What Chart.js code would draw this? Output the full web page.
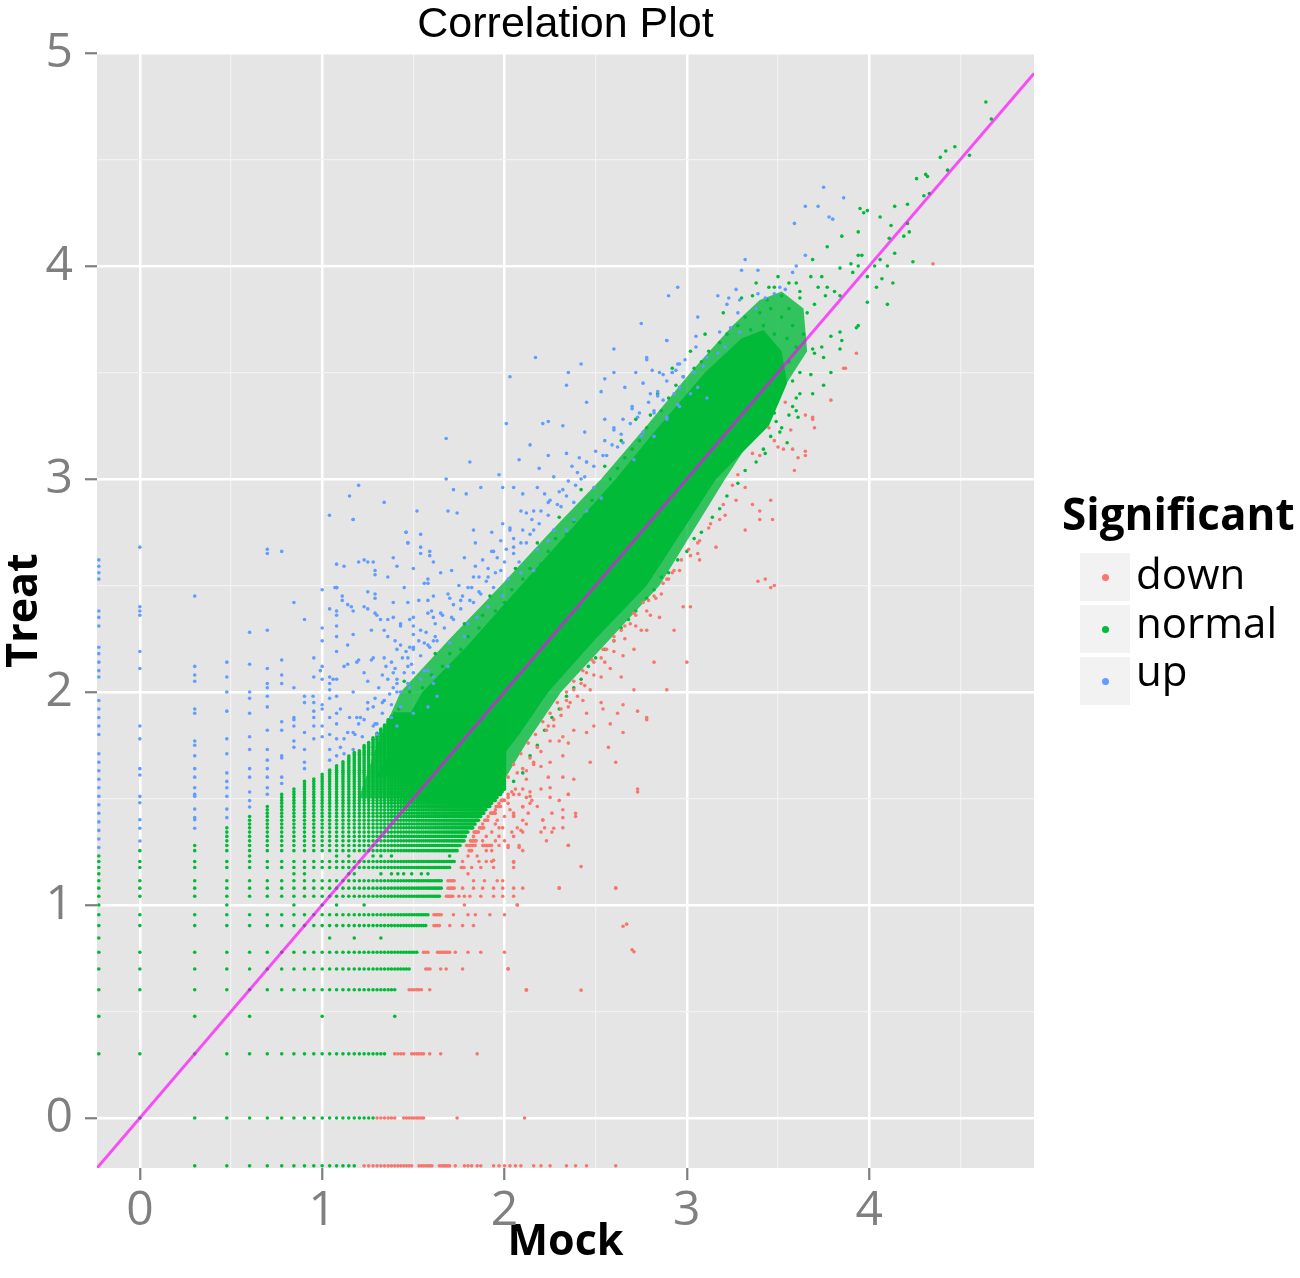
<!DOCTYPE html>
<html>
<head>
<meta charset="utf-8">
<script src="https://cdn.jsdelivr.net/npm/chart.js@4.4.1/dist/chart.umd.min.js"></script>
<style>
html,body{margin:0;padding:0;background:#fff;}
#wrap{position:relative;width:1300px;height:1278px;overflow:hidden;}
#c{position:absolute;left:0;top:0;}
.lg{position:absolute;font-family:"Open Sans",sans-serif;color:#000;white-space:nowrap;}
.lgt{font-weight:700;font-size:44px;line-height:44px;}
.lgl{font-size:42px;line-height:42px;}
.key{position:absolute;width:50px;height:48px;background:#F2F2F2;}
.key span{position:absolute;left:22px;top:21px;width:7px;height:7px;border-radius:50%;}
</style>
</head>
<body>
<div id="wrap">
<canvas id="c" width="1300" height="1278"></canvas>
<div class="lg lgt" style="left:1062px;top:491px;"></div>
<div class="key" style="left:1080px;top:553px;"><span style="background:#F8766D"></span></div>
<div class="key" style="left:1080px;top:605px;"><span style="background:#00BA38"></span></div>
<div class="key" style="left:1080px;top:657px;"><span style="background:#619CFF"></span></div>
<div class="lg lgl" id="l0" style="left:1136px;top:552px;"></div>
<div class="lg lgl" id="l1" style="left:1136px;top:601px;"></div>
<div class="lg lgl" id="l2" style="left:1136px;top:649px;"></div>
</div>
<script>
// ---------- labels & ticks ----------
const CATEGORIES = ['down', 'normal', 'up'];
const COLORS = ['#F8766D', '#00BA38', '#619CFF'];
const TITLE = 'Correlation Plot';
const X_TITLE = 'Mock';
const Y_TITLE = 'Treat';
const LEGEND_TITLE = 'Significant';
const X_TICKS = [0, 1, 2, 3, 4];
const Y_TICKS = [0, 1, 2, 3, 4, 5];
const X_MINOR = [0.5, 1.5, 2.5, 3.5, 4.5];
const Y_MINOR = [0.5, 1.5, 2.5, 3.5, 4.5];
const X_RANGE = [-0.235, 4.904];
const Y_RANGE = [-0.235, 5.0];

// ---------- discrete (low count) lattice levels ----------
const X_LEVELS = [-0.225,0,0.301,0.477,0.602,0.699,0.778,0.845,0.903,0.954,1.0,1.041,1.079,1.114,1.146,1.176,1.204,1.23,1.255,1.279,1.301,1.322,1.342,1.362,1.38,1.398,1.415,1.431,1.447,1.462,1.477,1.491,1.505,1.519,1.531,1.544,1.556,1.568,1.58,1.591,1.602,1.613,1.623,1.633,1.643,1.653,1.663,1.672,1.681,1.69,1.699,1.708,1.716,1.724,1.732,1.74,1.748,1.756,1.763,1.771,1.778,1.785,1.792,1.799,1.806,1.813,1.82,1.826,1.833,1.839,1.845,1.851,1.857,1.863,1.869,1.875,1.881,1.886,1.892,1.898,1.903,1.908,1.914,1.919,1.924,1.929,1.934,1.94,1.944,1.949,1.954,1.959,1.964,1.968,1.973,1.978,1.982,1.987,1.991,1.996,2.0];

// highest "normal" Treat value seen in each low Mock column
const COL_TOP = [[-0.225,1.21],[0,1.26],[0.301,1.30],[0.477,1.37],[0.602,1.43],[0.699,1.47],[0.778,1.53],[0.845,1.55],[0.903,1.58],[0.954,1.60],[1.0,1.62],[1.041,1.64],[1.079,1.66],[1.114,1.68],[1.146,1.70],[1.176,1.72],[1.204,1.73],[1.23,1.75],[1.255,1.77],[1.279,1.79],[1.301,1.81],[1.322,1.83],[1.342,1.85],[1.362,1.87],[1.38,1.89],[1.398,1.91],[1.415,1.93],[1.431,1.95]];

// rows: [Treat level, first normal Mock, last normal Mock, down runs, single down points]
const LATTICE_ROWS = [
 [-0.225,0.3,1.19,[[1.22,1.5],[1.52,1.61],[1.64,1.7]],[1.73,1.78,1.8,1.82,1.85,1.87,1.94,1.97,2.0,2.03,2.06,2.09,2.16,2.2,2.25,2.34,2.39,2.45,2.61]],
 [0,0,1.28,[[1.3,1.4],[1.44,1.56]],[1.74,2.11]],
 [0.301,-0.225,1.35,[[1.39,1.46],[1.49,1.56]],[1.59,1.65,1.85]],
 [0.602,-0.225,1.40,[[1.47,1.55]],[1.59,2.12]],
 [0.699,-0.225,1.48,[[1.52,1.52],[1.56,1.60]],[1.65,1.68,1.77,2.02]],
 [0.778,-0.225,1.52,[[1.55,1.58],[1.63,1.70]],[1.73,1.80,1.87,2.0]],
 [0.903,-0.225,1.57,[[1.61,1.65]],[1.70,1.77,1.83]],
 [0.954,-0.225,1.58,[[1.61,1.66]],[1.72,1.80,1.84,1.92,2.0]],
 [1.041,-0.225,1.65,[[1.68,1.72]],[1.75,1.78,1.81,1.87,1.94,1.99,2.05]],
 [1.079,-0.225,1.66,[[1.69,1.73]],[1.77,1.83,1.88,1.94,1.99,2.05,2.1,2.3,2.61]],
 [1.114,-0.225,1.66,[[1.69,1.73]],[1.83,1.89,1.96,1.99]],
 [1.176,-0.225,1.70,[[1.76,1.78]],[1.82,1.87,1.94,2.05]],
 [1.204,-0.225,1.73,[],[1.77,1.86,1.90,1.93,2.05]],
 [1.255,-0.225,1.74,[[1.80,1.82]],[1.90,1.93,2.1]],
 [1.279,-0.225,1.76,[[1.79,1.84],[1.88,1.93]],[1.97,2.02,2.08,2.35]],
 [1.301,-0.225,1.78,[[1.81,1.85]],[1.88,1.95,2.0,2.23]],
 [1.322,-0.225,1.79,[],[1.83,1.9,1.97,2.05]],
 [1.342,-0.225,1.80,[[1.83,1.86]],[1.93,2.04,2.10,2.2,2.26]],
 [1.362,-0.225,1.83,[[1.86,1.89]],[1.97,1.99,2.07,2.22,2.32]],
 [1.380,-0.225,1.84,[],[1.88,1.95,2.12]],
 [1.398,-0.225,1.86,[[1.89,1.91]],[1.96,2.10,2.21]],
 [1.415,-0.225,1.87,[],[1.91,2.0,2.05,2.39]],
 [1.431,-0.225,1.89,[[1.92,1.95]],[2.05,2.13,2.26]],
 [1.447,-0.225,1.90,[],[1.95,2.03,2.32]],
 [1.462,-0.225,1.92,[[1.95,1.98]],[2.1,2.18]],
 [1.477,-0.225,1.93,[],[1.97,2.02,2.14]],
 [1.491,-0.225,1.95,[[1.98,2.0]],[2.15,2.3]],
 [1.505,-0.225,1.96,[],[2.02,2.12,2.25]],
 [1.519,-0.225,1.98,[],[2.02,2.05,2.08,2.35]],
 [1.531,-0.225,1.99,[],[2.04,2.14]],
 [1.544,-0.225,2.0,[],[2.06,2.1,2.2,2.73]]
];
// rows whose normal run reaches the dense core
const UPPER_ROWS = [1.556,1.568,1.58,1.591,1.602,1.613,1.623,1.633,1.643,1.653,1.663,1.672,1.681,1.69,1.699,1.708,1.716,1.724,1.732,1.74,1.748,1.756,1.763,1.771,1.778,1.785,1.792,1.799,1.806,1.813,1.82,1.826,1.833,1.839,1.845,1.851,1.857,1.863,1.869,1.875,1.881,1.886,1.892,1.898];
// sparse rows: [Treat level, normal Mock values]
const SPARSE_NORMAL = [
 [0.477,[-0.225,0.301,0.602,1.0,1.398]],
 [0.845,[-0.225,1.041,1.176,1.322]],
 [1.0,[-0.225,0.477,0.845,1.0,1.079,1.23]],
 [1.146,[-0.225,0.845,0.903,1.146,1.176,1.322,1.38,1.415,1.447,1.491,1.544,1.58]],
 [1.23,[-0.225,0.602,1.079,1.146,1.279,1.322,1.38,1.699]]
];
const SPARSE_DOWN = [[1.0,[1.78,2.07]],[1.146,[1.80]],[1.23,[1.80,1.85]]];

// up points stacked on low Mock columns: [Mock level, Treat values]
const UP_COLUMNS = [
 [-0.225,[2.62,2.59,2.56,2.53,2.38,2.35,2.31,2.21,2.18,2.14,2.10,2.07,1.96,1.92,1.88,1.84,1.80,1.71,1.67,1.63,1.59,1.55,1.51,1.47,1.43,1.39,1.35,1.31,1.27]],
 [0,[2.68,2.40,2.38,2.36,2.19,2.11,1.84,1.78,1.64,1.61,1.51,1.48,1.40,1.36,1.30]],
 [0.301,[2.45,2.12,2.08,2.05,1.92,1.90,1.77,1.75,1.70,1.64,1.60,1.55,1.52,1.51,1.45,1.41,1.40,1.36]],
 [0.477,[2.14,2.07,2.0,1.91,1.78,1.71,1.62,1.58,1.55,1.51,1.45,1.41]],
 [0.602,[2.28,2.13,2.0,1.97,1.90,1.79,1.73,1.64,1.60,1.53,1.49,1.46]],
 [0.699,[2.67,2.65,2.29,2.11,2.04,2.02,1.98,1.93,1.82,1.73,1.68,1.64,1.60,1.55,1.52]],
 [0.778,[2.66,2.15,2.08,2.04,1.86,1.82,1.70,1.69,1.60,1.57]],
 [0.845,[2.42,2.02,1.88,1.87,1.84,1.77,1.74]],
 [0.903,[2.34,1.98,1.95,1.81,1.73,1.67,1.64]],
 [0.954,[2.16,2.07,1.95,1.91,1.88,1.84,1.78]],
 [1.0,[2.48,2.30,2.24,2.12,2.06,1.94,1.92,1.84,1.79]],
 [1.041,[2.39,2.07,2.04,2.01,1.97,1.88,1.80,1.73,1.68]],
 [1.079,[2.60,2.49,2.38,2.36,2.31,2.26,2.19,2.06,1.98,1.90,1.85,1.78,1.70]]
];

// ---------- scattered points [Mock, Treat] ----------
const UP_POINTS = [
 [2.17,3.57],[2.03,3.48],[2.42,3.54],[2.35,3.50],[2.60,3.61],[2.89,3.65],[2.78,3.57],[2.95,3.54],[2.81,3.51],[2.87,3.49],[2.92,3.50],[2.72,3.50],[2.60,3.50],[2.55,3.47],[2.53,3.41],[2.66,3.43],[2.76,3.45],[2.96,3.43],[2.84,3.39],[2.95,3.35],[2.70,3.34],[2.82,3.32],[2.89,3.29],[2.73,3.29],[2.45,3.36],[2.34,3.44],
 [2.01,3.26],[2.24,3.27],[2.21,3.26],[2.32,3.25],[2.44,3.22],[2.55,3.28],[2.60,3.24],[2.65,3.17],[2.62,3.15],[2.75,3.20],[2.82,3.20],[2.71,3.09],[2.56,3.11],[2.45,3.08],[2.34,3.12],[2.41,3.10],[2.24,3.11],[2.14,3.16],[2.08,3.09],[2.19,3.05],
 [1.68,3.19],[1.81,3.08],[1.97,3.02],[1.68,3.00],[1.72,2.95],[1.79,2.93],[1.87,2.96],[1.99,2.96],[2.05,2.96],[2.10,2.93],[2.18,2.96],[2.27,3.01],[2.32,2.95],[2.42,3.00],[2.49,2.96],[2.38,2.89],[2.45,2.85],[2.53,2.91],[2.31,2.87],[2.24,2.89],[2.16,2.85],[2.09,2.85],[1.99,2.79],[2.03,2.76],[1.93,2.75],[1.83,2.76],[1.84,2.70],[1.74,2.84],[1.69,2.85],[1.52,2.85],[1.34,2.89],[1.20,2.97],[1.15,2.92],[1.04,2.83],[1.17,2.81],
 [1.46,2.75],[1.47,2.70],[1.54,2.65],[1.59,2.66],[1.61,2.61],[1.65,2.56],[1.71,2.57],[1.78,2.63],[1.88,2.62],[1.94,2.66],[1.98,2.71],[2.05,2.68],[2.12,2.70],[2.18,2.67],[2.24,2.71],[2.27,2.76],[2.34,2.76],[2.38,2.81],[2.16,2.76],[2.08,2.61],[1.98,2.57],[1.91,2.54],[1.83,2.54],[1.80,2.49],[1.87,2.46],[1.94,2.49],[2.02,2.53],[2.09,2.56],[2.16,2.57],
 [1.99,2.45],[1.91,2.40],[1.83,2.42],[1.76,2.43],[1.69,2.46],[1.61,2.45],[1.56,2.51],[1.45,2.49],[1.36,2.54],[1.28,2.61],[1.23,2.62],[1.12,2.59],[1.08,2.49],[1.11,2.45],[1.16,2.40],[1.23,2.40],[1.29,2.37],[1.36,2.34],[1.43,2.32],[1.50,2.35],[1.58,2.37],[1.65,2.37],[1.72,2.34],[1.80,2.32],[1.85,2.35],
 [1.78,2.26],[1.70,2.23],[1.63,2.24],[1.56,2.23],[1.48,2.21],[1.41,2.20],[1.34,2.16],[1.27,2.15],[1.19,2.14],[1.12,2.12],[1.06,2.06],[0.99,2.10],[0.95,1.98],[1.17,2.00],[1.25,1.95],[1.34,1.96],[1.41,2.00],[1.48,2.02],[1.56,2.10],[1.61,2.04],[1.69,2.12],[1.43,1.93],[1.50,1.90],[1.38,1.88],[1.30,1.85],[1.21,1.88],[1.10,1.92],[1.41,1.84],[1.58,1.93],[1.63,1.98],
 [3.75,4.37],[3.86,4.32],[3.65,4.28],[3.72,4.28],[3.59,4.20],[3.78,4.23],[3.80,4.22],[3.32,4.03],[3.30,3.98],[3.39,3.98],[3.65,4.05],[3.60,4.00],[3.58,3.97],[2.95,3.90],[2.90,3.86],[2.75,3.73],[3.06,3.76],[2.89,3.65],[3.17,3.86],[3.23,3.85],[3.27,3.89],[3.29,3.84],[3.22,3.82],[3.39,3.87],[3.43,3.85],[3.48,3.87],[3.51,3.90],[3.54,3.89],[3.28,3.78],[3.38,3.80],[3.18,3.69],[3.24,3.71],[3.29,3.69],[3.05,3.67],[3.05,3.62],[2.78,3.56],[2.96,3.54],[2.92,3.50],[2.85,3.50],[2.98,3.48],[3.04,3.50],[3.11,3.57],[3.09,3.53],[3.17,3.59],[3.21,3.62],[2.80,3.40],[2.87,3.37],[2.93,3.40],[3.02,3.40],[3.06,3.43],[3.11,3.38],[2.96,3.34],[2.82,3.31],[2.89,3.28],[2.76,3.22],
 [1.17,2.81],[1.46,2.75],[1.54,2.74],[1.47,2.70],[1.54,2.68],[1.39,2.63],[1.59,2.64],[1.20,2.61],[1.25,2.61],[1.41,2.59],[1.50,2.58],[1.29,2.57],[1.29,2.55],[1.58,2.53],[1.58,2.51],[1.07,2.49],[1.25,2.47],[1.29,2.46],[1.29,2.44],[1.11,2.43],[1.14,2.41],[1.17,2.38],[1.25,2.39],[1.39,2.42],[1.47,2.42],[1.53,2.43],[1.58,2.43],[1.30,2.36],[1.32,2.34],[1.39,2.35],[1.48,2.34],[1.61,2.35],[1.27,2.29],[1.34,2.29],[1.43,2.31],[1.50,2.31],[1.54,2.29],[1.36,2.26],[1.40,2.24],[1.43,2.22],[1.61,2.24],[1.17,2.27],[1.14,2.22],[1.50,2.21],
 [1.47,2.16],[1.59,2.21],[1.28,2.16],[1.20,2.15],[1.14,2.13],[1.23,2.09],[1.35,2.12],[1.39,2.09],[1.47,2.12],[1.50,2.09],[1.58,2.10],[1.61,2.07],[1.41,2.06],[1.47,2.04],[1.54,2.06],[1.25,2.05],[1.39,2.02],[1.43,2.00],[1.34,1.96],[1.38,1.94],[1.28,1.93],[1.19,1.88],[1.23,1.87],[1.29,1.85],[1.14,1.81],[1.17,1.81],[1.22,1.79],[1.10,1.74],[1.17,1.73],[1.12,1.71],[1.12,1.78],[1.18,1.80],[1.28,1.84],[1.15,1.88],[1.25,1.92],[1.33,1.90],[1.20,1.85],[1.30,1.80]
];
// dense band of up points hugging the normal cloud
const UP_STRIP = [[1.33,1.95],[1.29,1.97],[1.37,1.99],[1.31,2.02],[1.41,2.04],[1.36,2.06],[1.45,2.09],[1.40,2.11],[1.33,2.08],[1.49,2.13],[1.44,2.16],[1.38,2.14],[1.54,2.17],[1.50,2.20],[1.46,2.19],[1.58,2.22],[1.53,2.24],[1.62,2.26],[1.57,2.28],[1.50,2.27],[1.67,2.30],[1.62,2.32],[1.71,2.35],[1.66,2.36],[1.60,2.38],[1.76,2.39],[1.72,2.41],[1.81,2.43],[1.77,2.45],[1.70,2.44],[1.86,2.47],[1.82,2.49],[1.75,2.50],[1.90,2.52],[1.86,2.54],[1.95,2.56],[1.91,2.58],[1.84,2.59],[2.00,2.61],[1.96,2.63],[2.05,2.65],[2.01,2.67],[1.93,2.66],[2.09,2.70],[2.05,2.72],[2.14,2.74],[2.10,2.76],[2.03,2.77],[2.19,2.79],[2.15,2.81],[2.24,2.83],[2.20,2.85],[2.12,2.84],[2.29,2.88],[2.25,2.90],[2.34,2.92],[2.30,2.94],[2.22,2.93],[2.39,2.97],[2.35,2.99],[2.44,3.01],[2.40,3.03],[2.49,3.06],[2.45,3.08],[2.37,3.06],[2.54,3.11],[2.50,3.13],[2.59,3.16],[2.55,3.18],[2.64,3.21],[2.60,3.23],[2.69,3.26],[2.65,3.28],[2.74,3.31],[2.70,3.33],[2.79,3.36],[2.84,3.41],[2.89,3.46],[2.94,3.51],[2.99,3.56]];

const DOWN_POINTS = [
 [3.01,2.67],[3.06,2.65],[3.02,2.40],[2.93,2.57],[2.89,2.53],[2.82,2.45],[2.76,2.42],[2.71,2.37],[2.69,2.32],[2.64,2.29],[2.60,2.24],[2.56,2.20],[2.53,2.16],[2.49,2.14],[2.45,2.09],[2.42,2.04],[2.38,2.01],[2.34,1.96],[2.31,1.92],[2.27,1.87],[2.24,1.84],[2.71,2.20],[2.78,2.29],[2.85,2.35],[2.93,2.29],[2.71,2.01],[2.82,2.14],[2.89,2.01],[2.64,2.07],[2.53,1.95],[2.62,1.90],[2.45,1.90],[2.78,1.87],[3.00,2.14],[2.98,2.40],
 [3.87,3.52],[3.79,3.37],[3.69,3.28],[3.65,3.13],[3.59,3.04],[3.46,2.90],[3.40,2.81],[3.48,2.50],[3.43,2.53],[3.32,2.76],[3.25,2.97],[3.18,2.81],[3.16,2.68],[3.07,2.62],[4.35,4.01],[3.93,3.59],[3.86,3.52],[3.65,3.30],[3.69,3.29],[3.70,3.24],[3.50,3.15],[3.53,3.14],[3.58,3.14],[3.65,3.11],[3.61,3.10],
 [3.27,2.90],[3.32,2.96],[3.36,2.88],[3.40,3.11],[3.48,3.18],[3.57,3.23],[3.07,2.71],[3.13,2.79],[3.21,2.83],[3.40,2.85],[3.47,2.81],[3.39,2.52],[3.46,2.49],[3.02,2.64],[2.96,2.57],[2.90,2.53],[2.83,2.44],[2.80,2.36],[2.75,2.29],[2.65,2.17],[2.58,2.11],[2.53,2.07],[2.47,2.01],[2.67,0.91],[2.70,0.79],
 [2.36,1.95],[2.43,1.96],[2.54,1.92],[2.65,1.94],[2.73,1.91],[2.78,1.88],[2.58,1.85],[2.65,1.81],[2.49,1.84],[2.45,1.81],[2.38,1.82],[2.32,1.79],[2.30,1.77],[2.57,1.74],[2.47,1.67],[2.61,1.67],[2.35,1.76],[2.32,1.70],[2.25,1.67],[2.20,1.65],[2.16,1.67],[2.12,1.63],[2.24,1.60],[2.32,1.60],[2.38,1.59],[2.25,1.55],[2.35,1.52],[2.73,1.53],[2.14,1.51],[2.10,1.46],[2.05,1.42],[2.32,1.41],[2.39,1.43],[2.21,1.40],[2.27,1.36],[2.09,1.35],[2.02,1.27],[2.08,1.27],[2.35,1.28],[2.42,1.18],[2.05,1.20],[1.94,1.21],[2.61,1.08],[2.30,1.08],[2.65,0.90],[2.71,0.78],[2.07,1.00],[2.02,0.70],[2.42,0.60],[2.12,0.60]
];
// dense band of down points hugging the normal cloud
const DOWN_STRIP = [[2.02,1.60],[2.07,1.62],[2.12,1.59],[2.05,1.66],[2.10,1.64],[2.16,1.66],[2.09,1.71],[2.14,1.69],[2.20,1.72],[2.13,1.76],[2.18,1.74],[2.25,1.77],[2.17,1.80],[2.23,1.82],[2.21,1.86],[2.27,1.84],[2.25,1.90],[2.31,1.89],[2.29,1.95],[2.35,1.93],[2.34,2.00],[2.40,1.98],[2.38,2.05],[2.44,2.03],[2.43,2.10],[2.49,2.08],[2.48,2.15],[2.55,2.14],[2.54,2.20],[2.60,2.19],[2.60,2.26],[2.66,2.25],[2.66,2.31],[2.72,2.31],[2.72,2.36],[2.78,2.38],[2.79,2.43],[2.86,2.46],[2.87,2.51],[2.92,2.56],[2.97,2.62],[3.06,2.70],[3.12,2.77],[3.20,2.88],[3.28,3.02],[3.36,3.12],[3.45,3.24],[3.54,3.36]];

const NORMAL_POINTS = [
 [4.64,4.77],[4.67,4.69],[4.39,4.51],[4.42,4.54],[4.47,4.56],[4.55,4.52],[4.43,4.45],[4.26,4.41],[4.31,4.43],[4.32,4.42],[4.30,4.33],[4.33,4.34],[4.21,4.29],[4.14,4.28],[4.06,4.23],[3.95,4.27],[3.97,4.25],[3.99,4.26],[4.12,4.19],[4.21,4.20],[4.22,4.16],[4.19,4.14],[4.11,4.13],[4.14,4.06],[4.24,4.02],[3.94,4.16],[3.85,4.14],[3.77,4.09],[3.96,4.05],[4.06,4.03],[4.10,4.00],[4.03,4.00],[3.94,4.00],[3.84,3.99],[3.99,3.95],[4.07,3.94],[4.13,3.92],[4.04,3.90],[4.10,3.82],[3.99,3.83],[3.94,3.72],[3.84,3.69],[3.85,3.65],[3.79,3.67],[3.74,3.62],[3.75,3.57],[3.69,3.61],[3.70,3.59],[3.75,3.44],[3.68,3.49],[3.62,3.40],[3.60,3.32],[3.48,3.31],[3.49,3.27],[3.42,3.24],[3.84,3.86],[3.81,3.88],[3.77,3.90],[3.74,3.95],[3.91,3.97],[3.90,4.01],[3.69,4.03],[3.94,4.05],
 [3.93,3.71],[3.84,3.61],[3.79,3.50],[3.69,3.40],[3.61,3.29],[3.58,3.34],[3.51,3.22],[3.43,3.12],[3.55,3.17],
 [3.35,3.70],[3.42,3.72],[3.48,3.68],[3.40,3.78],[3.46,3.80],[3.52,3.76],[3.58,3.72],[3.55,3.66],[3.60,3.62],[3.64,3.68],[3.66,3.78],[3.70,3.82],[3.62,3.88],[3.56,3.92],[3.68,3.95],[3.72,3.90],[3.76,3.86],[3.45,3.90],[3.38,3.92],
 [1.30,1.72],[1.38,1.86],[1.42,1.92],[1.48,2.00],[1.55,2.02],[1.60,2.08],[1.66,2.12],[1.70,2.18],[1.76,2.20],[1.80,2.26],[1.86,2.30],[1.88,2.36],[1.95,2.38],[2.00,2.42],[2.04,2.48],[2.10,2.53],[2.14,2.58],[2.20,2.60],[2.24,2.66],[2.28,2.72],[2.34,2.74],[2.38,2.80],[2.44,2.83],[2.48,2.90],[2.55,2.93],[2.58,3.00],[2.62,3.05],[2.66,3.10],[2.70,3.14],[2.74,3.18],[2.78,3.24],[2.80,3.30],[2.86,3.32],[2.90,3.38],[2.94,3.44],[2.98,3.48],[3.04,3.52],[3.08,3.55],[3.12,3.60],[3.18,3.64],[3.22,3.68],[3.28,3.72],[3.32,3.76],[3.38,3.80],[3.36,3.86],[3.44,3.84],[3.48,3.90],[3.52,3.86],[3.56,3.80],[3.60,3.92],[3.50,3.95],[3.62,3.85],
 [1.45,2.05],[1.62,2.18],[1.78,2.32],[1.92,2.45],[2.06,2.58],[2.18,2.70],[2.30,2.82],[2.42,2.95],[2.55,3.06],[2.64,3.18],[2.72,3.28],[2.84,3.40],[2.92,3.52],[3.02,3.60],[3.10,3.68],[3.20,3.78],[3.30,3.85],
 [2.05,1.58],[2.10,1.62],[2.14,1.70],[2.18,1.75],[2.22,1.82],[2.26,1.88],[2.30,1.92],[2.34,1.98],[2.38,2.02],[2.42,2.06],[2.46,2.12],[2.50,2.16],[2.55,2.20],[2.60,2.24],[2.64,2.30],[2.68,2.34],[2.72,2.38],[2.78,2.44],[2.82,2.48],[2.86,2.54],[2.90,2.56],[2.95,2.62],[3.00,2.66],[3.04,2.72],[3.08,2.75],[3.14,2.82],[3.18,2.86],[3.22,2.92],[3.28,2.98],[3.32,3.04],[3.38,3.08],[3.42,3.14],[3.46,3.20],[3.52,3.24],[3.56,3.30],[3.60,3.38],[3.58,3.46],[3.62,3.50],[3.56,3.55]
];

// outer limit of the over-plotted "normal" cloud (mostly covered) and its fully covered core
const NORMAL_HALO = [[1.2,1.5],[1.3,1.75],[1.43,2.0],[1.7,2.25],[1.98,2.5],[2.25,2.75],[2.53,3.0],[2.78,3.25],[3.02,3.5],[3.25,3.72],[3.4,3.84],[3.52,3.88],[3.64,3.8],[3.66,3.6],[3.57,3.48],[3.4,3.25],[3.21,3.0],[3.03,2.75],[2.85,2.5],[2.58,2.25],[2.31,2.0],[2.12,1.76],[1.98,1.56],[1.9,1.5],[1.2,1.5]];
const NORMAL_CORE = [[1.3,1.6],[1.45,1.85],[1.55,2.0],[1.8,2.22],[2.09,2.5],[2.35,2.75],[2.61,3.0],[2.85,3.25],[3.1,3.5],[3.3,3.66],[3.42,3.7],[3.52,3.6],[3.55,3.45],[3.45,3.25],[3.16,3.0],[2.97,2.75],[2.78,2.5],[2.5,2.25],[2.24,2.0],[2.08,1.8],[1.9,1.6],[1.3,1.6]];

// identity line Treat = Mock
const DIAGONAL = [[-0.235,-0.235],[4.904,4.904]];

// ---------- build point lists ----------
const EPS = 1e-6;
function colTop(x){ for (const c of COL_TOP) if (Math.abs(c[0]-x) < EPS) return c[1]; return Infinity; }
const normal = [], down = [], up = [];
function addRow(y, xmin, xmax, runs, singles){
  for (const x of X_LEVELS) if (x >= xmin-EPS && x <= xmax+EPS && y <= colTop(x)+EPS) normal.push({x, y});
  for (const r of runs) for (const x of X_LEVELS) if (x >= r[0]-EPS && x <= r[1]+EPS) down.push({x, y});
  for (const x of singles) down.push({x, y});
}
LATTICE_ROWS.forEach(r => addRow(r[0], r[1], r[2], r[3], r[4]));
UPPER_ROWS.forEach(y => addRow(y, -0.225, 2.0, [], []));
SPARSE_NORMAL.forEach(r => r[1].forEach(x => normal.push({x, y: r[0]})));
SPARSE_DOWN.forEach(r => r[1].forEach(x => down.push({x, y: r[0]})));
UP_COLUMNS.forEach(c => c[1].forEach(y => up.push({x: c[0], y})));
UP_POINTS.concat(UP_STRIP).forEach(p => up.push({x: p[0], y: p[1]}));
DOWN_POINTS.concat(DOWN_STRIP).forEach(p => down.push({x: p[0], y: p[1]}));
NORMAL_POINTS.forEach(p => normal.push({x: p[0], y: p[1]}));

const pt = (data, color) => ({data, backgroundColor: color, borderColor: color, pointRadius: 1.8, pointBorderWidth: 0, pointHoverRadius: 1.8});
const area = (poly, fillColor) => ({type: 'line', data: poly.map(p => ({x: p[0], y: p[1]})), borderColor: 'rgba(0,0,0,0)', backgroundColor: fillColor, borderWidth: 0, pointRadius: 0, fill: 'shape', tension: 0});

const TICK_FONT = {family: '"Open Sans", sans-serif', size: 48};
const AXIS_FONT = {family: '"Open Sans", sans-serif', size: 43, weight: 'bold', lineHeight: 1};
const isMajor = (v, majors) => majors.some(m => Math.abs(m - v) < EPS);

const bgPlugin = {
  id: 'panelBg',
  beforeDraw(chart){
    const {ctx, chartArea: a} = chart;
    ctx.save(); ctx.fillStyle = '#E5E5E5'; ctx.fillRect(a.left, a.top, a.right - a.left, a.bottom - a.top); ctx.restore();
  }
};

function axis(range, majors, minors, title, isX){
  const all = majors.concat(minors).sort((a, b) => a - b);
  return {
    type: 'linear', min: range[0], max: range[1],
    afterBuildTicks: s => { s.ticks = all.map(v => ({value: v})); },
    ticks: {
      callback: v => isMajor(v, majors) ? String(v) : '',
      font: TICK_FONT, color: '#7F7F7F', padding: isX ? 3 : 12, autoSkip: false, maxRotation: 0
    },
    grid: {
      color: c => isMajor(c.tick.value, majors) ? '#FFFFFF' : '#F2F2F2',
      lineWidth: c => isMajor(c.tick.value, majors) ? 2.5 : 1.2,
      tickColor: c => isMajor(c.tick.value, majors) ? '#7F7F7F' : 'rgba(0,0,0,0)',
      tickLength: 12, tickWidth: 2.2
    },
    border: {display: false},
    title: {display: true, text: title, color: '#000', font: AXIS_FONT, padding: isX ? {top: 0, bottom: 14} : {top: 3, bottom: 0}},
    afterFit: s => { if (isX) s.height = 110; else s.width = 97; }
  };
}

document.getElementById('l0').textContent = CATEGORIES[0];
document.getElementById('l1').textContent = CATEGORIES[1];
document.getElementById('l2').textContent = CATEGORIES[2];
document.querySelector('.lgt').textContent = LEGEND_TITLE;

new Chart(document.getElementById('c'), {
  type: 'scatter',
  data: {
    datasets: [
      {type: 'line', data: DIAGONAL.map(p => ({x: p[0], y: p[1]})), borderColor: 'rgba(255,0,255,0.66)', borderWidth: 3, pointRadius: 0, fill: false, tension: 0},
      pt(down, COLORS[0]),
      pt(up, COLORS[2]),
      pt(normal, COLORS[1]),
      area(NORMAL_CORE, COLORS[1]),
      area(NORMAL_HALO, 'rgba(0,186,56,0.78)')
    ]
  },
  options: {
    responsive: false, animation: false, devicePixelRatio: 1, events: [],
    layout: {padding: {left: 0, right: 266, top: 0, bottom: 0}},
    plugins: {
      legend: {display: false}, tooltip: {enabled: false},
      title: {display: true, text: TITLE, fullSize: false, color: '#000', font: {family: '"Liberation Sans", Arial, sans-serif', size: 43, weight: 'normal', lineHeight: 1}, padding: {top: 4, bottom: 6}}
    },
    scales: {
      x: axis(X_RANGE, X_TICKS, X_MINOR, X_TITLE, true),
      y: axis(Y_RANGE, Y_TICKS, Y_MINOR, Y_TITLE, false)
    }
  },
  plugins: [bgPlugin]
});
</script>
</body>
</html>
